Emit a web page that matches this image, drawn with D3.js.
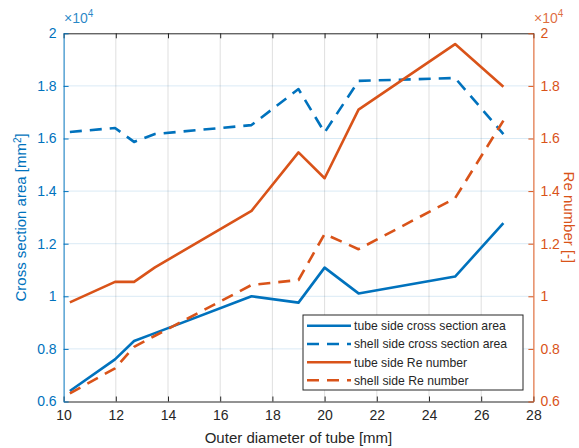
<!DOCTYPE html>
<html><head><meta charset="utf-8">
<script src="https://cdn.jsdelivr.net/npm/d3@7"></script>
<style>body{margin:0;background:#fff}svg{display:block;font-family:"Liberation Sans",Arial,sans-serif}</style>
</head><body><svg id="c" width="579" height="448"></svg>
<script>
const diameter = [10.24, 11.97, 12.7, 13.5, 17.2, 19.0, 20.0, 21.3, 25.0, 26.85];
const tubeArea = [6400, 7600, 8300, 8600, 10000, 9760, 11090, 10110, 10750, 12780];
const shellArea = [16250, 16400, 15870, 16170, 16510, 17880, 16230, 18190, 18300, 16170];
const tubeRe = [9770, 10550, 10550, 11100, 13250, 15470, 14490, 17100, 19590, 17970];
const shellRe = [6310, 7260, 8080, 8500, 10430, 10620, 12370, 11790, 13730, 16680];
const xTicks = [10, 12, 14, 16, 18, 20, 22, 24, 26, 28];
const yTicks = [6000, 8000, 10000, 12000, 14000, 16000, 18000, 20000];
const seriesNames = ["tube side cross section area", "shell side cross section area", "tube side Re number", "shell side Re number"];

const BLUE = "#0072BD", ORANGE = "#D95319", DARK = "#262626";
const L = 63.6, R = 533.4, T = 33.3, B = 401.5;
const svg = d3.select("#c");
const x = d3.scaleLinear().domain([10, 28]).range([L, R]);
const yL = d3.scaleLinear().domain([6000, 20000]).range([B, T]);
const yR = d3.scaleLinear().domain([6000, 20000]).range([B, T]);
const fmt = v => d3.format("")(+(v / 1e4).toFixed(1));

// grid
const g = svg.append("g");
g.selectAll(".vg").data(xTicks.slice(1, -1)).enter().append("line")
  .attr("x1", d => x(d)).attr("x2", d => x(d)).attr("y1", T).attr("y2", B)
  .attr("stroke", DARK).attr("stroke-opacity", 0.15).attr("stroke-width", 1);
g.selectAll(".hg").data(yTicks.slice(1, -1)).enter().append("line")
  .attr("y1", d => yL(d)).attr("y2", d => yL(d)).attr("x1", L).attr("x2", R)
  .attr("stroke", BLUE).attr("stroke-opacity", 0.15).attr("stroke-width", 1);

// axes
const xb = svg.append("g").attr("transform", `translate(0,${B})`)
  .call(d3.axisBottom(x).tickValues(xTicks).tickSizeInner(-5).tickSizeOuter(0).tickPadding(9));
xb.select(".domain").attr("stroke", DARK);
xb.selectAll(".tick line").attr("stroke", DARK);
xb.selectAll("text").attr("fill", DARK).attr("font-size", 14).attr("font-family", "Liberation Sans, Arial");

const xt = svg.append("g").attr("transform", `translate(0,${T})`)
  .call(d3.axisTop(x).tickValues(xTicks).tickSizeInner(-5).tickSizeOuter(0).tickFormat(""));
xt.select(".domain").attr("stroke", DARK);
xt.selectAll(".tick line").attr("stroke", DARK);

const yl = svg.append("g").attr("transform", `translate(${L},0)`)
  .call(d3.axisLeft(yL).tickValues(yTicks).tickSizeInner(-5).tickSizeOuter(0).tickPadding(7).tickFormat(fmt));
yl.select(".domain").attr("stroke", BLUE);
yl.selectAll(".tick line").attr("stroke", BLUE);
yl.selectAll("text").attr("fill", BLUE).attr("font-size", 14).attr("font-family", "Liberation Sans, Arial");

const yr = svg.append("g").attr("transform", `translate(${R},0)`)
  .call(d3.axisRight(yR).tickValues(yTicks).tickSizeInner(-5).tickSizeOuter(0).tickPadding(7).tickFormat(fmt));
yr.select(".domain").attr("stroke", ORANGE);
yr.selectAll(".tick line").attr("stroke", ORANGE);
yr.selectAll("text").attr("fill", ORANGE).attr("font-size", 14).attr("font-family", "Liberation Sans, Arial");

// exponent labels
function expo(xp, color) {
  const t = svg.append("text").attr("x", xp).attr("y", 23).attr("fill", color).attr("fill-opacity", 0.85).attr("font-size", 14);
  t.append("tspan").text("×10");
  t.append("tspan").attr("dy", -6).attr("font-size", 10).text("4");
}
expo(64, BLUE);
expo(534, ORANGE);

// axis titles
svg.append("text").attr("x", (L + R) / 2).attr("y", 443).attr("text-anchor", "middle")
  .attr("fill", DARK).attr("font-size", 15).text("Outer diameter of tube [mm]");
svg.append("text").attr("transform", `translate(26,${(T + B) / 2}) rotate(-90)`).attr("text-anchor", "middle")
  .attr("fill", BLUE).attr("font-size", 15).call(t => {
    t.text("Cross section area [mm");
    t.append("tspan").attr("dy", -5).attr("font-size", 10).text("2");
    t.append("tspan").attr("dy", 5).text("]");
  });
svg.append("text").attr("transform", `translate(564,${(T + B) / 2}) rotate(90)`).attr("text-anchor", "middle")
  .attr("fill", ORANGE).attr("font-size", 15).text("Re number [-]");

// lines
const series = [
  {vals: tubeArea, y: yL, color: BLUE, dash: null},
  {vals: shellArea, y: yL, color: BLUE, dash: "12,8"},
  {vals: tubeRe, y: yR, color: ORANGE, dash: null},
  {vals: shellRe, y: yR, color: ORANGE, dash: "12,8"}
];
series.forEach(s => {
  const line = d3.line().x((d, i) => x(diameter[i])).y(d => s.y(d));
  svg.append("path").attr("d", line(s.vals)).attr("fill", "none")
    .attr("stroke", s.color).attr("stroke-width", 2.6)
    .attr("stroke-dasharray", s.dash).attr("stroke-linejoin", "round");
});

// legend
const lg = svg.append("g");
lg.append("rect").attr("x", 303).attr("y", 315).attr("width", 220).attr("height", 75)
  .attr("fill", "#fff").attr("stroke", DARK).attr("stroke-width", 1);
const rowsY = [325.7, 344, 362.3, 380.3];
series.forEach((s, i) => {
  lg.append("line").attr("x1", 307).attr("x2", 351).attr("y1", rowsY[i]).attr("y2", rowsY[i])
    .attr("stroke", s.color).attr("stroke-width", 2.6).attr("stroke-dasharray", s.dash);
  lg.append("text").attr("x", 354).attr("y", rowsY[i] + 4.3).attr("font-size", 12.2)
    .attr("fill", DARK).text(seriesNames[i]);
});
</script></body></html>
